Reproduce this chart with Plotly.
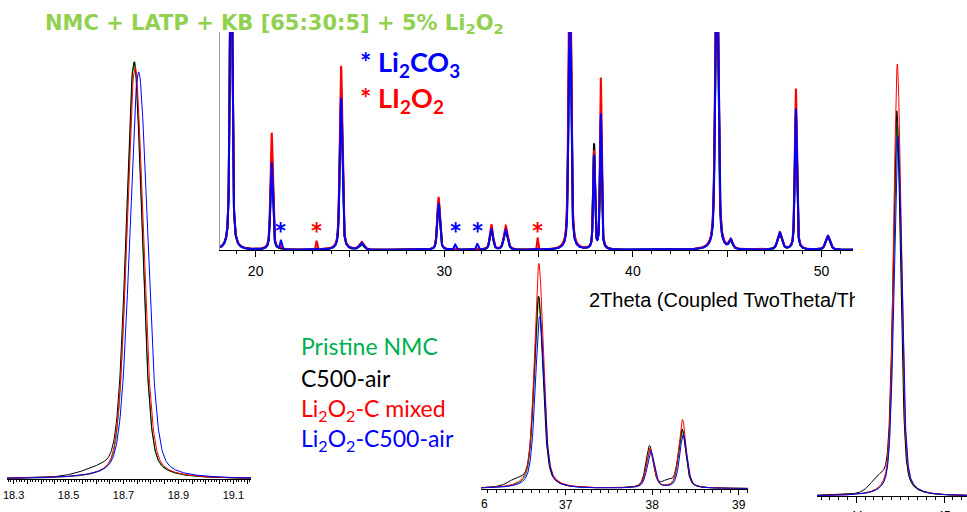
import numpy as np
import plotly.graph_objects as go

# ---------------- data ----------------
series_names = ["Pristine NMC", "C500-air", "Li<sub>2</sub>O<sub>2</sub>-C mixed", "Li<sub>2</sub>O<sub>2</sub>-C500-air"]
series_colors = ["#00a000", "#000000", "#ff0000", "#0000ff"]

# Full pattern: reflection positions (2theta, deg), FWHM (deg) and intensities (a.u.) per sample
main_pos = [18.70, 20.85, 21.34, 23.23, 24.53, 25.62, 29.70, 30.58, 31.75, 32.50,
            33.26, 34.95, 36.66, 37.94, 38.30, 44.45, 45.19, 47.79, 48.64, 50.34]
main_fwhm = [0.14, 0.15, 0.10, 0.08, 0.16, 0.30, 0.17, 0.12, 0.12, 0.20,
             0.24, 0.07, 0.15, 0.11, 0.11, 0.18, 0.22, 0.28, 0.13, 0.28]
main_int = {
    "Pristine NMC": [180, 40.0, 0.5, 0.0, 70.0, 2.5, 21.0, 0.0, 0.0, 9.0,
                     9.0, 0.0, 136, 45.0, 60.0, 145, 3.5, 7.0, 62.0, 6.0],
    "C500-air":     [180, 45.0, 0.5, 0.0, 74.0, 2.5, 22.0, 0.0, 0.0, 9.5,
                     9.5, 0.0, 136, 48.0, 58.0, 150, 3.5, 7.5, 62.0, 6.0],
    "Li2O2-C mixed": [185, 53.7, 1.0, 4.0, 84.4, 3.5, 24.3, 0.5, 0.5, 11.5,
                      11.0, 5.5, 160, 44.5, 78.4, 170, 4.0, 8.0, 73.9, 6.5],
    "Li2O2-C500-air": [175, 40.0, 4.0, 0.5, 69.7, 3.0, 21.5, 2.3, 2.8, 9.6,
                       9.2, 0.5, 122, 42.7, 62.0, 140, 4.0, 7.8, 64.7, 6.4],
}

# Zoom on the (003) reflection
z1_pos = {"Pristine NMC": [18.740], "C500-air": [18.738, 18.610],
          "Li2O2-C mixed": [18.742], "Li2O2-C500-air": [18.755]}
z1_fwhm = {"Pristine NMC": [0.066], "C500-air": [0.068, 0.16],
           "Li2O2-C mixed": [0.070], "Li2O2-C500-air": [0.076]}
z1_int = {"Pristine NMC": [98.5], "C500-air": [98.0, 1.5],
          "Li2O2-C mixed": [97.0], "Li2O2-C500-air": [96.0]}

# Zoom on the (101) / (006) / (102) reflections
z2_pos = {"Pristine NMC": [36.69, 37.975, 38.35],
          "C500-air": [36.685, 37.97, 38.345, 36.42, 38.18],
          "Li2O2-C mixed": [36.69, 37.975, 38.35],
          "Li2O2-C500-air": [36.70, 37.985, 38.36]}
z2_fwhm = {"Pristine NMC": [0.12, 0.10, 0.10],
           "C500-air": [0.12, 0.10, 0.10, 0.22, 0.15],
           "Li2O2-C mixed": [0.12, 0.10, 0.10],
           "Li2O2-C500-air": [0.12, 0.10, 0.10]}
z2_int = {"Pristine NMC": [82.0, 16.3, 25.0],
          "C500-air": [82.2, 18.0, 25.1, 2.5, 2.5],
          "Li2O2-C mixed": [96.4, 17.0, 29.4],
          "Li2O2-C500-air": [73.6, 15.8, 23.0]}

# Zoom on the (104) reflection
z3_pos = {"Pristine NMC": [44.468], "C500-air": [44.462, 44.25],
          "Li2O2-C mixed": [44.468], "Li2O2-C500-air": [44.475]}
z3_fwhm = {"Pristine NMC": [0.10], "C500-air": [0.10, 0.22],
           "Li2O2-C mixed": [0.10], "Li2O2-C500-air": [0.105]}
z3_int = {"Pristine NMC": [84.0], "C500-air": [87.0, 3.0],
          "Li2O2-C mixed": [98.0], "Li2O2-C500-air": [81.5]}

# Tick spacing (major tick step, labelled every n-th major tick, minor step)
main_tick = dict(tick0=20, dtick=5, ticklabelstep=2, minor_dtick=1)
z1_tick = dict(tick0=18.3, dtick=0.05, ticklabelstep=4, minor_dtick=0.01)
z2_ticks = [37, 38, 39]
z2_first_label = "6"
z3_ticks = [44, 45]

keys = ["Pristine NMC", "C500-air", "Li2O2-C mixed", "Li2O2-C500-air"]


def pattern(x, pos, fwhm, amp, eta=0.5):
    """Pseudo-Voigt sum of reflections."""
    y = np.zeros_like(x)
    for p, w, a in zip(pos, fwhm, amp):
        hw = w / 2.0
        lor = 1.0 / (1.0 + ((x - p) / hw) ** 2)
        gau = np.exp(-np.log(2) * ((x - p) / hw) ** 2)
        y += a * (eta * lor + (1 - eta) * gau)
    return y


W, H = 967, 512
px = lambda v: v / W
py = lambda v: 1 - v / H

fig = go.Figure()

x_main = np.arange(18.0, 51.8, 0.01)
for k, c in zip(keys, series_colors):
    fig.add_trace(go.Scatter(x=x_main, y=pattern(x_main, main_pos, main_fwhm, main_int[k]),
                             mode="lines", line=dict(color=c, width=2),
                             xaxis="x", yaxis="y", showlegend=False, hoverinfo="skip"))

x1 = np.arange(18.25, 19.2, 0.002)
for k, c in zip(keys, series_colors):
    fig.add_trace(go.Scatter(x=x1, y=pattern(x1, z1_pos[k], z1_fwhm[k], z1_int[k], eta=0.3),
                             mode="lines", line=dict(color=c, width=1),
                             xaxis="x2", yaxis="y2", showlegend=False, hoverinfo="skip"))

x2 = np.arange(36.0, 39.15, 0.004)
for k, c in zip(keys, series_colors):
    fig.add_trace(go.Scatter(x=x2, y=pattern(x2, z2_pos[k], z2_fwhm[k], z2_int[k]),
                             mode="lines", line=dict(color=c, width=1),
                             xaxis="x3", yaxis="y3", showlegend=False, hoverinfo="skip"))

x3 = np.arange(43.5, 45.3, 0.003)
for k, c in zip(keys, series_colors):
    fig.add_trace(go.Scatter(x=x3, y=pattern(x3, z3_pos[k], z3_fwhm[k], z3_int[k], eta=0.4),
                             mode="lines", line=dict(color=c, width=1),
                             xaxis="x4", yaxis="y4", showlegend=False, hoverinfo="skip"))

tick_font = dict(family="Liberation Sans, Arial", color="black")
hidden_y = dict(visible=False, showgrid=False, zeroline=False, range=[0, 100], automargin=False)
bare = dict(showgrid=False, zeroline=False, automargin=False)

MAIN_RANGE = [18.11, 51.67]
Z1_RANGE = [18.276, 19.164]
Z2_RANGE = [36.021, 39.108]
Z3_RANGE = [43.552, 45.262]

fig.update_layout(
    width=W, height=H,
    margin=dict(l=0, r=0, t=0, b=0, autoexpand=False),
    paper_bgcolor="white", plot_bgcolor="rgba(0,0,0,0)",
    # full pattern
    xaxis=dict(domain=[px(220), px(853)], anchor="y", range=MAIN_RANGE,
               showline=True, linecolor="black", linewidth=1,
               ticks="outside", ticklen=6, tickcolor="black",
               tickmode="linear", tick0=main_tick["tick0"], dtick=main_tick["dtick"],
               ticklabelstep=main_tick["ticklabelstep"], ticklabelstandoff=2,
               tickfont=dict(size=14, **tick_font),
               minor=dict(dtick=main_tick["minor_dtick"], tick0=0, ticks="outside",
                          ticklen=3, tickcolor="black"),
               **bare),
    yaxis=dict(domain=[py(250), py(32)], anchor="x", range=[0, 100],
               showline=True, linecolor="#9a9a9a", linewidth=1,
               showticklabels=False, ticks="", **bare),
    # zoom (003)
    xaxis2=dict(domain=[px(7), px(251)], anchor="y2", range=Z1_RANGE,
                showline=True, linecolor="black", linewidth=1,
                ticks="outside", ticklen=4, tickcolor="black",
                tickmode="linear", tick0=z1_tick["tick0"], dtick=z1_tick["dtick"],
                ticklabelstep=z1_tick["ticklabelstep"], tickformat=".1f", ticklabelstandoff=2,
                tickfont=dict(size=11, **tick_font),
                minor=dict(dtick=z1_tick["minor_dtick"], tick0=18.3, ticks="outside",
                           ticklen=2, tickcolor="black"),
                **bare),
    yaxis2=dict(domain=[py(479), py(55)], anchor="x2", **hidden_y),
    # zoom (101)/(006)/(102)
    xaxis3=dict(domain=[px(481), px(748)], anchor="y3", range=Z2_RANGE,
                showline=True, linecolor="black", linewidth=1,
                ticks="outside", ticklen=5, tickcolor="black",
                tickvals=z2_ticks, ticklabelstandoff=0,
                tickfont=dict(size=12, **tick_font),
                minor=dict(dtick=0.1, tick0=36, ticks="outside", ticklen=3, tickcolor="black"),
                **bare),
    yaxis3=dict(domain=[py(488.7), py(255)], anchor="x3", **hidden_y),
    # zoom (104)
    xaxis4=dict(domain=[px(817), 1.0], anchor="y4", range=Z3_RANGE,
                showline=True, linecolor="black", linewidth=1,
                ticks="outside", ticklen=6, tickcolor="black",
                tickvals=z3_ticks, ticklabelstandoff=3,
                tickfont=dict(size=12, **tick_font),
                minor=dict(dtick=0.1, tick0=44, ticks="outside", ticklen=3, tickcolor="black"),
                **bare),
    yaxis4=dict(domain=[py(496), py(55)], anchor="x4", **hidden_y),
)

annotations = [
    dict(text="<b>NMC + LATP + KB [65:30:5] + 5% Li<sub>2</sub>O<sub>2</sub></b>",
         x=px(43), y=py(24), xanchor="left", yanchor="middle",
         font=dict(family="DejaVu Sans", size=21, color="#92d050")),
    dict(text="<b>* Li<sub>2</sub>CO<sub>3</sub></b>",
         x=px(358), y=py(63), xanchor="left", yanchor="middle",
         font=dict(family="Lato", size=27, color="#0000ff")),
    dict(text="<b>* LI<sub>2</sub>O<sub>2</sub></b>",
         x=px(358), y=py(99), xanchor="left", yanchor="middle",
         font=dict(family="Lato", size=27, color="#ff0000")),
    dict(text="2Theta (Coupled TwoTheta/Theta)",
         x=px(587), y=py(300), xanchor="left", yanchor="middle", width=853 - 587, align="left",
         font=dict(family="Liberation Sans, Arial", size=20, color="black")),
    # left part of the first middle-zoom tick label falls outside its panel
    dict(text=z2_first_label, x=36.06, xref="x3", y=py(504), xanchor="center", yanchor="middle",
         font=dict(size=12, **tick_font)),
]
label_y = [346, 378, 409, 439]
label_colors = ["#00b050", "#000000", "#ff0000", "#0000ff"]
for name, yy, col in zip(series_names, label_y, label_colors):
    annotations.append(dict(text=name, x=px(299), y=py(yy), xanchor="left", yanchor="middle",
                            font=dict(family="Lato", size=23, color=col)))

# Asterisks marking impurity reflections in the full pattern
star_x = [21.34, 23.23, 30.58, 31.75, 34.95]
star_col = ["#0000ff", "#ff0000", "#0000ff", "#0000ff", "#ff0000"]
for sx, sc in zip(star_x, star_col):
    annotations.append(dict(text="<b>*</b>", x=sx, y=8, xref="x", yref="y",
                            xanchor="center", yanchor="middle", showarrow=False,
                            font=dict(family="Lato", size=31, color=sc)))

for a in annotations:
    a.setdefault("xref", "paper")
    a.setdefault("yref", "paper")
    a.setdefault("showarrow", False)
fig.update_layout(annotations=annotations)

fig.write_html("out.html")
